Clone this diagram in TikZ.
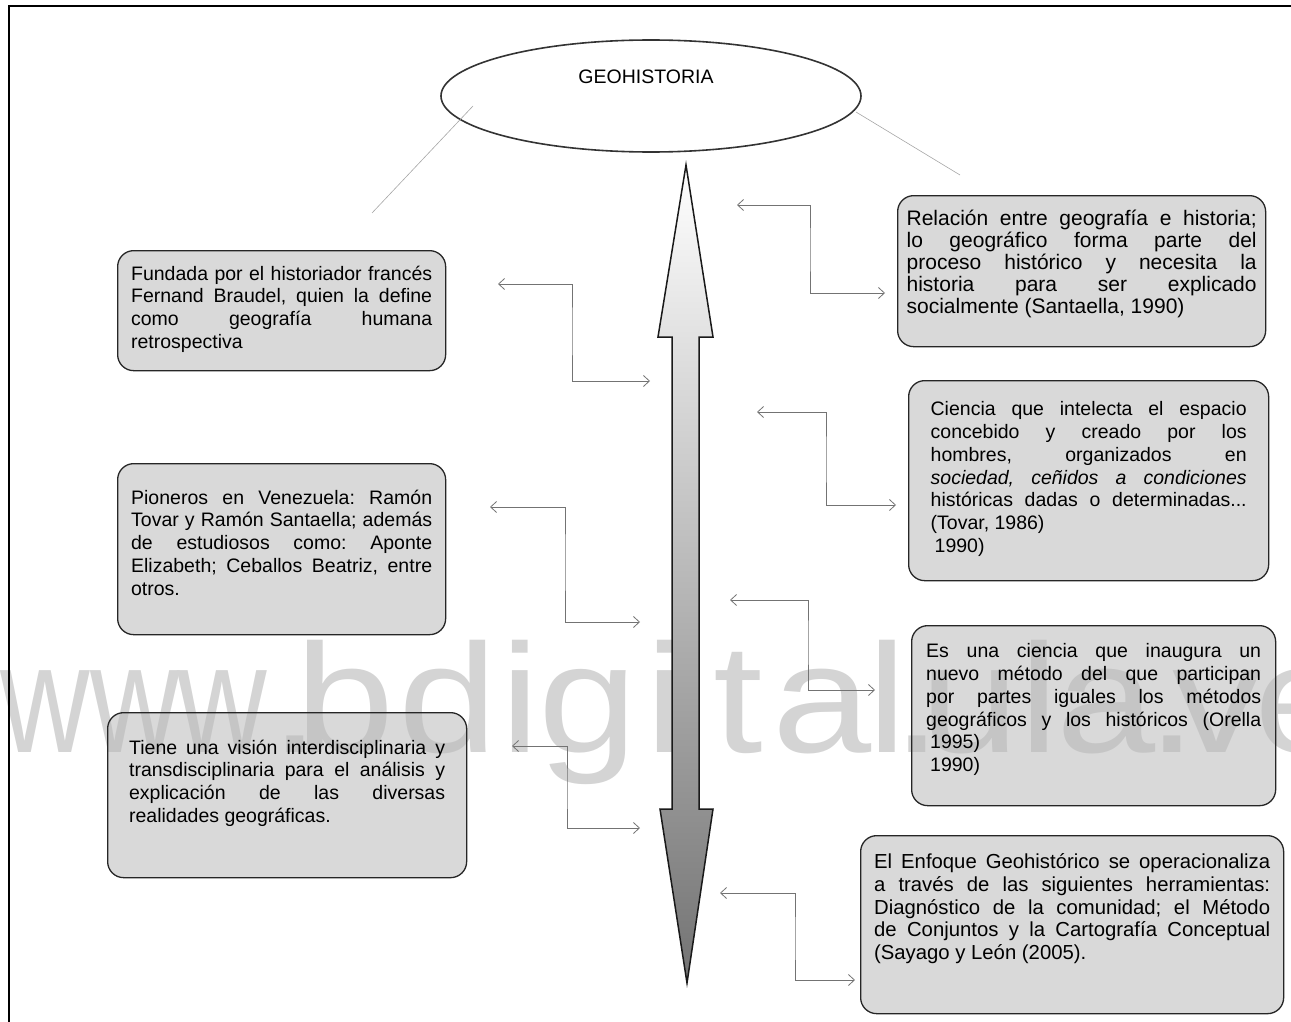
\documentclass[tikz,border=0pt]{standalone}
\usepackage{fontspec}
\usepackage{graphicx}
\setmainfont{Liberation Sans}
\usetikzlibrary{arrows.meta,shapes.geometric}
\frenchspacing
\newcommand{\jl}[1]{\makebox[\linewidth][s]{#1}\\}
\newcommand{\wl}[2]{\makebox[#1pt][l]{\scalebox{1.15}[1]{#2}}}
\newcommand{\ww}[1]{\makebox[#1pt][l]{\scalebox{0.8}[1]{w}}}
\begin{document}
\begin{tikzpicture}[x=1pt,y=-1pt,
  every node/.style={inner sep=0pt},
  txt/.style={font=\fontsize{19.5}{22.75}\selectfont},
  box/.style={draw=black!85, line width=1.3pt, rounded corners=16pt,
    fill=black!27, fill opacity=0.55, text opacity=1, anchor=north west, txt, align=left},
  conn/.style={draw=black!55, line width=0.8pt,
    arrows={Straight Barb[length=6pt,width=11pt]-Straight Barb[length=6pt,width=11pt]}},
  guide/.style={draw=black!35, line width=0.6pt},
]
\useasboundingbox (0,0) rectangle (1291,1022);
% watermark
\node[anchor=base west, text=black!17, font=\fontsize{155}{155}\selectfont] (wm) at (0,752)
 {\ww{90}\ww{87}\ww{93}\wl{25}{.}\wl{103}{b}\wl{102}{d}\wl{38}{i}\wl{107}{g}\wl{68}{i}\wl{59}{t}\wl{95}{a}\wl{25}{l}\wl{28}{.}\wl{99}{u}\wl{37}{l}\wl{91}{a}\wl{25}{.}\wl{82}{v}\scalebox{1.15}[1]{e}};
% frame
\draw[line width=2pt] (1291,6) -- (9,6) -- (9,1022);
% ellipse
\node[ellipse, draw=black!80, line width=1.6pt, fill=white, minimum width=420pt, minimum height=112pt] (geo) at (651,96) {};
\node[txt] (geotxt) at (646,77) {GEOHISTORIA};
\coordinate (gl1) at (473,106);
\coordinate (gl2) at (372,213);
\coordinate (gr1) at (856,112);
\coordinate (gr2) at (960,175);
\draw[guide] (gl1) -- (gl2);
\draw[guide] (gr1) -- (gr2);
% central double arrow
\draw[line width=1.5pt, draw=black!90, top color=white, middle color=black!16, bottom color=black!55]
  (686,165) -- (713,337) -- (699,337) -- (699,809) -- (713,809) -- (687,983)
  -- (660,809) -- (672,809) -- (672,337) -- (658,337) -- cycle;
% boxes left
\node[box, inner xsep=13.5pt, inner ysep=15pt] (l1) at (117,250) {\parbox[c][90pt][t]{301pt}{%
\jl{Fundada por el historiador francés}\jl{Fernand Braudel, quien la define}\jl{como geografía humana}retrospectiva}};
\node[box, inner xsep=13.5pt, inner ysep=26pt] (l2) at (117,463) {\parbox[c][119pt][t]{301pt}{%
\jl{Pioneros en Venezuela: Ramón}\jl{Tovar y Ramón Santaella; además}\jl{de estudiosos como: Aponte}\jl{Elizabeth; Ceballos Beatriz, entre}otros.}};
\node[box, inner xsep=21.5pt, inner ysep=27pt] (l3) at (107,712) {\parbox[c][111pt][t]{316pt}{%
\jl{Tiene una visión interdisciplinaria y}\jl{transdisciplinaria para el análisis y}\jl{explicación de las diversas}realidades geográficas.}};
% boxes right
\node[box, inner xsep=9pt, inner ysep=14pt, font=\fontsize{21}{22}\selectfont] (r1) at (897,195) {\parbox[c][123pt][t]{350pt}{%
\jl{Relación entre geografía e historia;}\jl{lo geográfico forma parte del}\jl{proceso histórico y necesita la}\jl{historia para ser explicado}socialmente (Santaella, 1990)}};
\node[box, inner xsep=22pt, inner ysep=21pt] (r2) at (908,380) {\parbox[c][158pt][t]{316pt}{%
\jl{Ciencia que intelecta el espacio}\jl{concebido y creado por los}\jl{hombres, organizados en}\jl{\itshape sociedad, ceñidos a condiciones}\jl{históricas dadas o determinadas...}(Tovar, 1986)\\\hspace*{4pt}1990)}};
\node[box, inner xsep=14.5pt, inner ysep=18pt] (r3) at (911,625) {\parbox[c][144pt][t]{335pt}{%
\jl{Es una ciencia que inaugura un}\jl{nuevo método del que participan}\jl{por partes iguales los métodos}\jl{geográficos y los históricos (Orella}\hspace*{4pt}1995)\\\hspace*{4pt}1990)}};
\node[box, inner xsep=13.5pt, inner ysep=18pt, font=\fontsize{20.3}{22.75}\selectfont] (r4) at (860,835) {\parbox[c][142pt][t]{396pt}{%
\jl{El Enfoque Geohistórico se operacionaliza}\jl{a través de las siguientes herramientas:}\jl{Diagnóstico de la comunidad; el Método}\jl{de Conjuntos y la Cartografía Conceptual}(Sayago y León (2005).}};
% connectors
\coordinate (c1a) at (498,284); \coordinate (c1m) at (572,330); \coordinate (c1b) at (650,381);
\coordinate (c2a) at (490,507); \coordinate (c2m) at (565,560); \coordinate (c2b) at (640,622);
\coordinate (c3a) at (512,746); \coordinate (c3m) at (567,790); \coordinate (c3b) at (640,828);
\coordinate (c4a) at (737,205); \coordinate (c4m) at (810,250); \coordinate (c4b) at (885,293);
\coordinate (c5a) at (757,412); \coordinate (c5m) at (826,460); \coordinate (c5b) at (896,505);
\coordinate (c6a) at (730,600); \coordinate (c6m) at (808,640); \coordinate (c6b) at (875,690);
\coordinate (c7a) at (720,893); \coordinate (c7m) at (795,940); \coordinate (c7b) at (855,980);
\foreach \i in {1,...,7}{\draw[conn] (c\i a) -| (c\i m) |- (c\i b);}
\end{tikzpicture}
\end{document}
